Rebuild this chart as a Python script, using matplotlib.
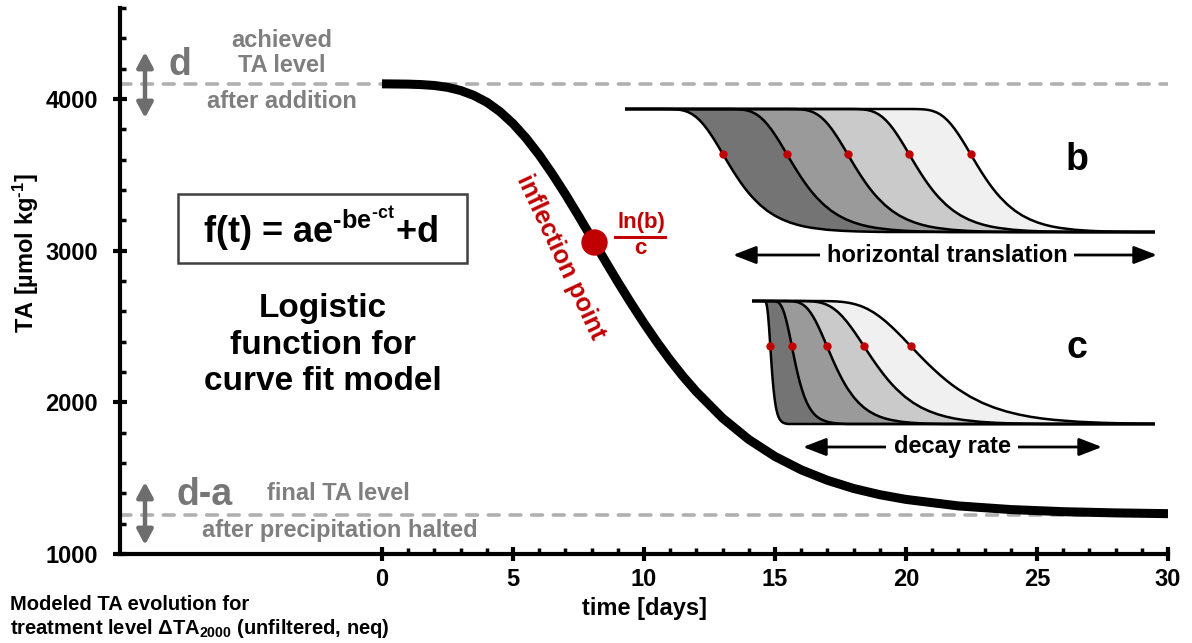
import numpy as np
import matplotlib
matplotlib.use('Agg')
import matplotlib.pyplot as plt
from matplotlib.patches import Rectangle
from matplotlib.lines import Line2D

plt.rcParams['font.family'] = ['Liberation Sans', 'DejaVu Sans']
plt.rcParams['font.weight'] = 'bold'
plt.rcParams['mathtext.fontset'] = 'custom'
plt.rcParams['mathtext.rm'] = 'Liberation Sans:bold'
plt.rcParams['mathtext.it'] = 'Liberation Sans:bold'
plt.rcParams['mathtext.bf'] = 'Liberation Sans:bold'
plt.rcParams['mathtext.sf'] = 'Liberation Sans:bold'

# --- 数据：主曲线 ---
days = [0, 1, 1.5, 2, 2.5, 3, 3.5, 4, 4.5, 5, 5.5, 6, 6.5, 7, 7.5, 8, 8.5, 9, 9.5, 10,
        10.5, 11, 11.5, 12, 13, 14, 15, 16, 17, 18, 19, 20, 22, 24, 26, 28, 30]
ta = [4100, 4098, 4095, 4089, 4077, 4056, 4024, 3979, 3917, 3838, 3742, 3631, 3506, 3372, 3230, 3084, 2938, 2794, 2655, 2522,
      2396, 2278, 2169, 2070, 1896, 1755, 1643, 1555, 1486, 1432, 1391, 1360, 1317, 1293, 1279, 1271, 1266]
level_d = 4100        # d
level_d_minus_a = 1260  # d-a
t_inflection = 8.1
ta_inflection = 3055

# 小图 b：水平平移量 (天)
b_shift = [4.97, 13.5, 21.6, 29.8, 38.0]
# 小图 c：时间拉伸系数
c_stretch = [0.11, 0.34, 0.715, 1.11, 1.61]
c_origin = -4.4
shades = ['#747474', '#9a9a9a', '#cacaca', '#f0f0f0']

x_major = [0, 5, 10, 15, 20, 25, 30]
x_minor = list(range(0, 31))
y_major = [1000, 2000, 3000, 4000]
y_minor = list(range(1200, 4601, 200))

RED = '#c00000'
GRAY = '#7f7f7f'
W, H = 1192, 643


def fp(x, y):
    # 图像像素 (左上原点) -> figure pixels
    return (x, H - y)


fig = plt.figure(figsize=(W / 100, H / 100), dpi=100)
ax = fig.add_axes([120 / W, (H - 554) / H, 1048 / W, 546 / H])
ax.set_xlim(-10, 30)
ax.set_ylim(1000, 4600)
for s in ['top', 'right']:
    ax.spines[s].set_visible(False)
for s in ['left', 'bottom']:
    ax.spines[s].set_linewidth(3)
ax.set_xticks(x_major)
ax.set_xticks(x_minor, minor=True)
ax.set_yticks(y_major)
ax.set_yticks(y_minor, minor=True)
ax.tick_params(which='major', direction='inout', length=9.5, width=3, labelsize=17)
ax.tick_params(which='minor', direction='in', length=4.5, width=2.5)
ax.tick_params(axis='y', which='major', pad=11)
ax.tick_params(axis='x', which='major', pad=5)

# 虚线 d, d-a
ax.axhline(level_d, color='#b0b0b0', lw=2.6, dashes=(3, 3), dash_capstyle='round', zorder=1)
ax.axhline(level_d_minus_a, color='#b0b0b0', lw=2.6, dashes=(3, 3), dash_capstyle='round', zorder=1)

# 主曲线
ax.plot(days, ta, color='black', lw=6.5, solid_capstyle='butt', zorder=3)
ax.plot(t_inflection, ta_inflection, 'o', color=RED, ms=18, zorder=4)

# 文字
fig.text(26 / W, 1 - 253 / H, 'TA [µmol kg$^{‐1}$]', rotation=90, ha='center', va='center', fontsize=17)
fig.text(645 / W, 1 - 608 / H, 'time [days]', ha='center', va='center', fontsize=17)
fig.text(10 / W, 1 - 604 / H, 'Modeled TA evolution for', ha='left', va='center', fontsize=14.5)
fig.text(10 / W, 1 - 628 / H, 'treatment level ΔTA$_{2000}$ (unfiltered, neq)', ha='left', va='center', fontsize=14.5)

fig.text(180 / W, 1 - 75 / H, 'd', fontsize=27, color='#767676', ha='center', va='baseline')
fig.text(282 / W, 1 - 47 / H, 'achieved', fontsize=17, color=GRAY, ha='center', va='baseline')
fig.text(282 / W, 1 - 72 / H, 'TA level', fontsize=17, color=GRAY, ha='center', va='baseline')
fig.text(282 / W, 1 - 108 / H, 'after addition', fontsize=17, color=GRAY, ha='center', va='baseline')
fig.text(205 / W, 1 - 505 / H, 'd-a', fontsize=27, color='#767676', ha='center', va='baseline')
fig.text(338 / W, 1 - 500 / H, 'final TA level', fontsize=17, color=GRAY, ha='center', va='baseline')
fig.text(340 / W, 1 - 537 / H, 'after precipitation halted', fontsize=17, color=GRAY, ha='center', va='baseline')

for y0, y1 in [(52, 118), (482, 545)]:
    ax.annotate('', xy=fp(145, y0), xytext=fp(145, y1), xycoords='figure pixels', textcoords='figure pixels',
                arrowprops=dict(arrowstyle='<|-|>,head_length=0.45,head_width=0.24', color='#6e6e6e',
                                lw=3.2, shrinkA=0, shrinkB=0, mutation_scale=20))

fig.add_artist(Rectangle((178 / W, 1 - 263 / H), 289 / W, 69 / H, fill=False, ec='#404040', lw=1.8,
                         transform=fig.transFigure))
fig.text(320 / W, 1 - 229 / H, r'f(t) = ae$^{‐be^{‐ct}}$+d', fontsize=26, ha='center', va='center')
fig.text(323 / W, 1 - 345 / H, 'Logistic\nfunction for\ncurve fit model', fontsize=24, ha='center', va='center',
         linespacing=1.25)

fig.text(561 / W, 1 - 257 / H, 'inflection point', rotation=-65, rotation_mode='anchor', ha='center', va='center',
         color=RED, fontsize=18)
fig.text(641 / W, 1 - 222 / H, 'ln(b)', ha='center', va='center', color=RED, fontsize=16)
fig.add_artist(Line2D([615 / W, 665 / W], [1 - 237 / H] * 2, color=RED, lw=2.2))
fig.text(640 / W, 1 - 249 / H, 'c', ha='center', va='center', color=RED, fontsize=16)

fig.text(1077 / W, 1 - 170 / H, 'b', ha='center', va='baseline', fontsize=27)
fig.text(1077 / W, 1 - 358 / H, 'c', ha='center', va='baseline', fontsize=27)

for x0, x1, y, label, xc in [(733, 1157, 255, 'horizontal translation', 947),
                             (803, 1102, 447, 'decay rate', 952)]:
    ax.annotate('', xy=fp(x1, y), xytext=fp(x0, y), xycoords='figure pixels', textcoords='figure pixels',
                arrowprops=dict(arrowstyle='<|-|>,head_length=0.7,head_width=0.27', color='black',
                                lw=2, shrinkA=0, shrinkB=0, mutation_scale=20))
    fig.text(xc / W, 1 - y / H, label, ha='center', va='center', fontsize=17,
             bbox=dict(boxstyle='square,pad=0.3', fc='white', ec='none'))

# --- 小图 ---
PX_PER_DAY = 7.5


def make_inset(x0_px, x1_px, top_px, bot_px, origin_px, pad=8):
    a = fig.add_axes([x0_px / W, (H - bot_px - pad) / H, (x1_px - x0_px) / W, (bot_px - top_px + 2 * pad) / H])
    ta_per_px = (ta[0] - ta[-1]) / (bot_px - top_px)
    a.set_ylim(ta[-1] - pad * ta_per_px, ta[0] + pad * ta_per_px)
    a.set_xlim((x0_px - origin_px) / PX_PER_DAY, (x1_px - origin_px) / PX_PER_DAY)
    a.axis('off')
    return a


def draw_family(a, curves_x, dots_x):
    ys = np.r_[ta[0], ta, ta[-1]]
    xs = [np.r_[-200, cx, 300] for cx in curves_x]
    for k in range(len(xs) - 1):
        a.fill(np.r_[xs[k], xs[k + 1][::-1]], np.r_[ys, ys[::-1]], color=shades[k], lw=0, zorder=1)
    for cx in xs:
        a.plot(cx, ys, color='black', lw=1.8, zorder=2)
    a.plot(dots_x, [ta_inflection] * len(dots_x), 'o', color=RED, ms=5, zorder=3)


days_arr = np.array(days)
ax_b = make_inset(625, 1155, 109, 232, 625)
draw_family(ax_b, [days_arr + s for s in b_shift], [t_inflection + s for s in b_shift])

ax_c = make_inset(752, 1155, 301, 424, 760)
draw_family(ax_c, [(days_arr - c_origin) * k for k in c_stretch], [(t_inflection - c_origin) * k for k in c_stretch])

fig.savefig('out.png', dpi=100, facecolor='white')
